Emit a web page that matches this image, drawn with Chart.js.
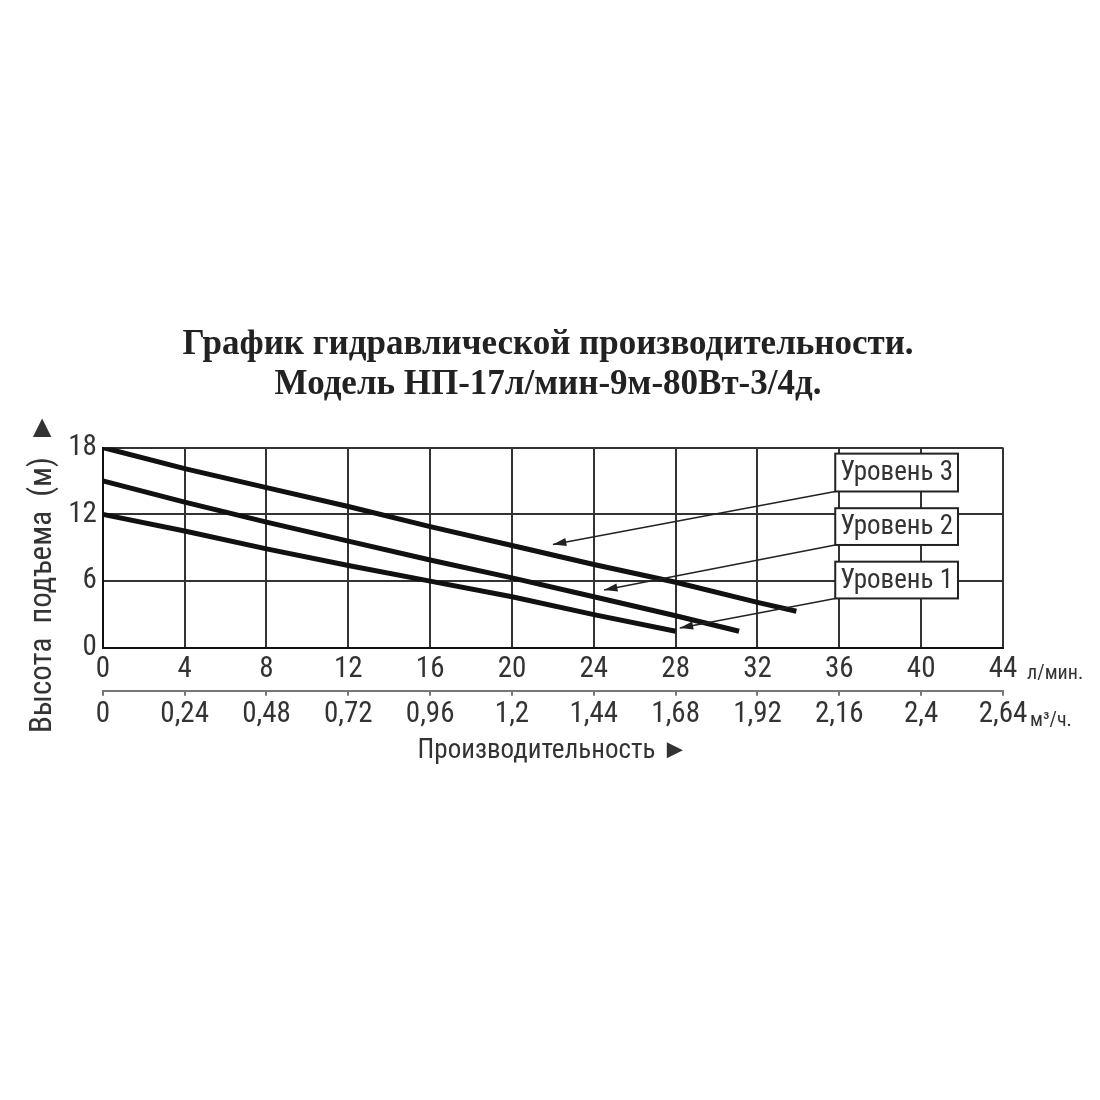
<!DOCTYPE html>
<html>
<head>
<meta charset="utf-8">
<script src="https://cdn.jsdelivr.net/npm/chart.js@4.4.1/dist/chart.umd.min.js"></script>
<style>
  html, body { margin: 0; background: #fff; }
  #wrap { width: 1100px; height: 1100px; }
</style>
</head>
<body>
<div id="wrap"><canvas id="pump"></canvas></div>
<script>
// flow in л/мин, head in м
const m3Labels = ['0', '0,24', '0,48', '0,72', '0,96', '1,2', '1,44', '1,68', '1,92', '2,16', '2,4', '2,64'];

const flow1 = [0, 4, 8, 12, 16, 20, 24, 28];
const head1 = [12, 10.5, 8.9, 7.4, 6, 4.6, 3, 1.5];

const flow2 = [0, 4, 8, 12, 16, 20, 24, 28, 31.1];
const head2 = [15, 13.1, 11.3, 9.6, 7.9, 6.3, 4.6, 2.9, 1.5];

const flow3 = [0, 4, 8, 12, 16, 20, 24, 28, 32, 33.9];
const head3 = [18, 16.1, 14.4, 12.7, 10.9, 9.2, 7.5, 5.9, 4.1, 3.3];

const seriesNames = ['Уровень 1', 'Уровень 2', 'Уровень 3'];

// callout boxes (data units) and where their arrows point
const boxLeft = 35.8, boxRight = 41.8;
const boxBottom = [4.45, 9.25, 14.05];
const boxTop = [7.75, 12.55, 17.45];
const tipX = [28.2, 24.5, 22];
const tipY = [1.8, 5.2, 9.3];

const narrow = "'Roboto Condensed', 'Liberation Sans Narrow', 'Liberation Sans', Arial, sans-serif";
const nb = '\u00A0';

function pts(xs, ys) {
  return xs.map((v, i) => ({ x: v, y: ys[i] }));
}

const callouts = {
  id: 'callouts',
  afterDatasetsDraw(chart) {
    const { ctx, scales: { x, y, x2 } } = chart;
    ctx.save();
    seriesNames.forEach((name, i) => {
      const l = x.getPixelForValue(boxLeft), r = x.getPixelForValue(boxRight);
      const t = y.getPixelForValue(boxTop[i]), b = y.getPixelForValue(boxBottom[i]);
      const tx = x.getPixelForValue(tipX[i]), ty = y.getPixelForValue(tipY[i]);

      ctx.strokeStyle = '#222';
      ctx.fillStyle = '#222';
      ctx.lineWidth = 1.5;
      ctx.beginPath();
      ctx.moveTo(l, b);
      ctx.lineTo(tx, ty);
      ctx.stroke();
      const a = Math.atan2(ty - b, tx - l);
      ctx.beginPath();
      ctx.moveTo(tx, ty);
      ctx.lineTo(tx - 14 * Math.cos(a - 0.3), ty - 14 * Math.sin(a - 0.3));
      ctx.lineTo(tx - 14 * Math.cos(a + 0.3), ty - 14 * Math.sin(a + 0.3));
      ctx.closePath();
      ctx.fill();

      ctx.fillStyle = '#fff';
      ctx.fillRect(l, t, r - l, b - t);
      ctx.lineWidth = 2;
      ctx.strokeRect(l, t, r - l, b - t);
      ctx.fillStyle = '#333';
      ctx.font = '27px ' + narrow;
      ctx.textAlign = 'center';
      ctx.textBaseline = 'middle';
      ctx.fillText(name, (l + r) / 2, (t + b) / 2 + 1);
    });

    // units after the last tick labels
    const endX = x.getPixelForValue(44);
    ctx.fillStyle = '#333';
    ctx.font = '20px ' + narrow;
    ctx.textAlign = 'left';
    ctx.textBaseline = 'alphabetic';
    ctx.fillText('л/мин.', endX + 24, x.top + 31);
    ctx.fillText('м³/ч.', endX + 27, x2.top + 35);
    ctx.restore();
  }
};

const lineStyle = {
  borderColor: '#111',
  borderWidth: 5,
  pointRadius: 0,
  showLine: true,
  fill: false,
  tension: 0
};

const tickFont = { family: narrow, size: 29, lineHeight: 1.2 };

new Chart(document.getElementById('pump'), {
  type: 'scatter',
  data: {
    datasets: [
      Object.assign({ label: seriesNames[0], data: pts(flow1, head1) }, lineStyle),
      Object.assign({ label: seriesNames[1], data: pts(flow2, head2) }, lineStyle),
      Object.assign({ label: seriesNames[2], data: pts(flow3, head3) }, lineStyle)
    ]
  },
  options: {
    responsive: true,
    maintainAspectRatio: false,
    animation: false,
    layout: { padding: { top: 325, left: 25, right: 29, bottom: 333 } },
    plugins: {
      legend: { display: false },
      tooltip: { enabled: false },
      title: {
        display: true,
        text: ['График гидравлической производительности.', 'Модель НП-17л/мин-9м-80Вт-3/4д.'],
        color: '#222',
        font: { family: "'Liberation Serif', 'DejaVu Serif', serif", size: 35, weight: 'bold', lineHeight: 1.15 },
        padding: { top: 0, bottom: 42 }
      }
    },
    scales: {
      x: {
        type: 'linear',
        position: 'bottom',
        min: 0, max: 44,
        ticks: { stepSize: 4, color: '#333', padding: 4, font: tickFont },
        grid: { color: '#333', lineWidth: 2, drawTicks: false },
        border: { color: '#111', width: 2 }
      },
      x2: {
        type: 'linear',
        position: 'bottom',
        min: 0, max: 44,
        ticks: {
          stepSize: 4, color: '#333', padding: 2, font: tickFont,
          callback: (v, i) => m3Labels[i]
        },
        grid: { drawOnChartArea: false, color: '#777', lineWidth: 2, tickLength: 5 },
        border: { color: '#777', width: 2 },
        title: {
          display: true,
          text: 'Производительность ►',
          color: '#333',
          font: { family: narrow, size: 27, lineHeight: 1.2 },
          padding: { top: 0, bottom: 0 }
        }
      },
      y: {
        min: 0, max: 18,
        ticks: { stepSize: 6, color: '#333', padding: 6, font: tickFont },
        grid: { color: '#333', lineWidth: 2, drawTicks: false },
        border: { color: '#111', width: 2 },
        title: {
          display: true,
          text: 'Высота  подъема  (м)  ►' + nb.repeat(7),
          color: '#333',
          font: { family: narrow, size: 31, lineHeight: 1.2 },
          padding: { top: 0, bottom: 0 }
        }
      },
      // empty strip on the right so the unit labels have room
      side: {
        type: 'linear',
        position: 'right',
        display: true,
        ticks: { display: false },
        grid: { display: false },
        border: { display: false },
        afterFit(scale) { scale.width = 68; }
      }
    }
  },
  plugins: [callouts]
});
</script>
</body>
</html>
